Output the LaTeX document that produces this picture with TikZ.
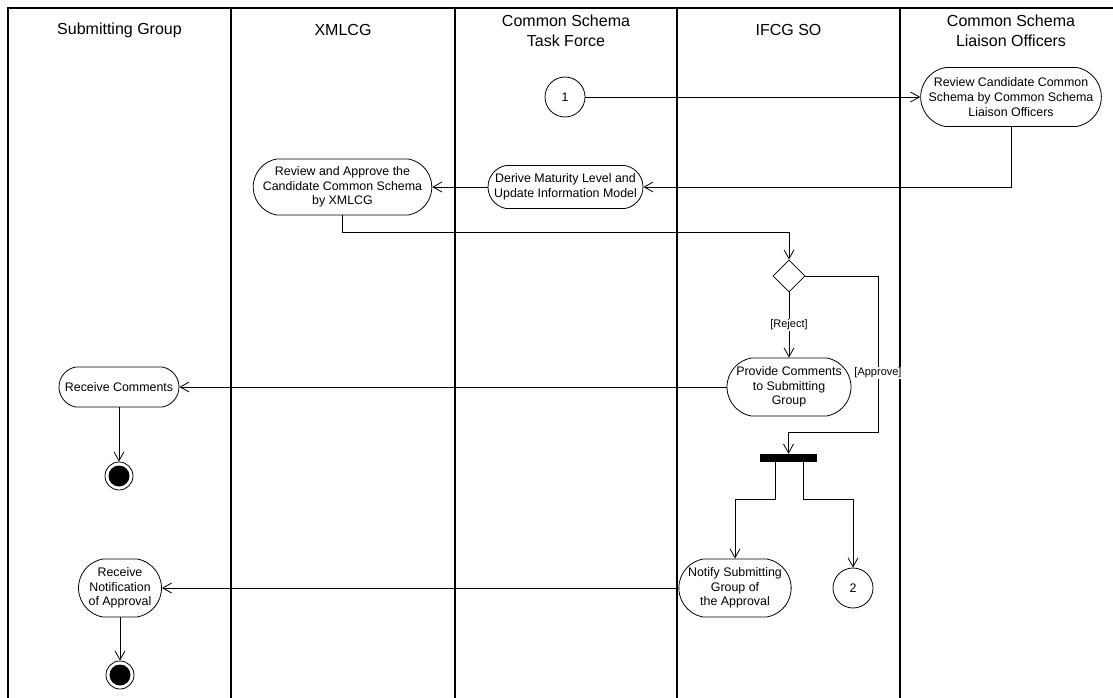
\documentclass[tikz,border=0pt]{standalone}
\usepackage{fontspec}
\setmainfont{Liberation Sans}
\usepackage{tikz}
\usetikzlibrary{arrows.meta, shapes.geometric, shapes.misc, calc, positioning}
\tikzset{
    laneLine/.style={line width=1.1pt},
    laneHead/.style={align=center, font=\fontsize{16}{20}\selectfont},
    action/.style={rounded rectangle, rounded rectangle arc length=160, draw, line width=0.8pt, align=center, inner sep=1pt, font=\fontsize{12.4}{14.7}\selectfont},
    connector/.style={circle, draw, line width=0.8pt, minimum size=40pt, inner sep=0pt, font=\fontsize{12.4}{14.7}\selectfont},
    finalNode/.style={circle, draw, line width=0.8pt, minimum size=28pt, inner sep=0pt, path picture={\fill (path picture bounding box.center) circle (10.5pt);}},
    decision/.style={diamond, draw, line width=0.8pt, minimum width=32pt, minimum height=32pt, inner sep=0pt},
    forkBar/.style={rectangle, fill=black, minimum width=57pt, minimum height=8pt, inner sep=0pt},
    flowEdge/.style={->, >={Straight Barb[length=9pt,width=10pt]}, line width=0.8pt},
    guard/.style={fill=white, inner sep=1pt, font=\fontsize{11}{13}\selectfont},
}
\newcommand{\drawFlow}[2]{
    \draw[flowEdge] (#1) -- (#2);
}

\begin{document}
\begin{tikzpicture}[x=1pt, y=-1pt]

    \useasboundingbox (0,0) rectangle (1113,698);

    % lanes
    \draw[laneLine] (8,698) -- (8,8) -- (1113,8);
    \draw[laneLine] (231,8) -- (231,698);
    \draw[laneLine] (455,8) -- (455,698);
    \draw[laneLine] (677,8) -- (677,698);
    \draw[laneLine] (900,8) -- (900,698);

    \node[laneHead] (hSub) at (119.5,30) {Submitting Group};
    \node[laneHead] (hXml) at (343,30) {XMLCG};
    \node[laneHead] (hTask) at (566,31) {Common Schema\\Task Force};
    \node[laneHead] (hIfcg) at (788.5,30) {IFCG SO};
    \node[laneHead] (hLiai) at (1011,31) {Common Schema\\Liaison Officers};

    % review round
    \node[connector] (start1) at (565,97) {1};
    \node[action, minimum width=176pt, minimum height=59pt] (csr) at (1011,97) {Review Candidate Common\\Schema by Common Schema\\Liaison Officers};
    \node[action, minimum width=157pt, minimum height=43pt] (derive) at (565.5,187) {Derive Maturity Level and\\Update Information Model};
    \node[action, minimum width=171pt, minimum height=56pt] (approveX) at (342.5,187) {Review and Approve the\\Candidate Common Schema\\by XMLCG};

    \drawFlow{start1.east}{csr.west}
    \draw[flowEdge] (csr.south) |- (derive.east);
    \drawFlow{derive.west}{approveX.east}

    % decision
    \node[decision] (dec) at (789,276) {};
    \node[action, minimum width=119pt, minimum height=58pt] (provide) at (789,387) {Provide Comments\\to Submitting\\Group};
    \node[action, minimum width=122pt, minimum height=40pt] (recvC) at (119,387) {Receive Comments};
    \node[finalNode] (endA) at (119,476) {};

    \draw[flowEdge] (approveX.south) -- ++(0,17) -| (dec.north);
    \draw[flowEdge] (dec.south) -- node[guard] {[Reject]} (provide.north);
    \drawFlow{provide.west}{recvC.east}
    \drawFlow{recvC.south}{endA.north}

    % approval
    \node[forkBar] (bar) at (788.5,458) {};
    \coordinate (apTurn) at (878,432);
    \draw[flowEdge] (dec.east) -| (apTurn) -| (bar.north);
    \node[guard] (apLabel) at (878,373) {[Approve]};

    \node[action, minimum width=108pt, minimum height=58pt] (notify) at (735,588) {Notify Submitting\\Group of\\the Approval};
    \node[connector] (conn2) at (853,588) {2};
    \node[action, minimum width=85pt, minimum height=58pt] (recvN) at (120,588) {Receive\\Notification\\of Approval};
    \node[finalNode] (endB) at (120,675) {};

    \draw[flowEdge] ([xshift=-13.5pt]bar.south) -- ++(0,37) -| (notify.north);
    \draw[flowEdge] ([xshift=14.5pt]bar.south) -- ++(0,37) -| (conn2.north);
    \drawFlow{notify.west}{recvN.east}
    \drawFlow{recvN.south}{endB.north}

\end{tikzpicture}
\end{document}
